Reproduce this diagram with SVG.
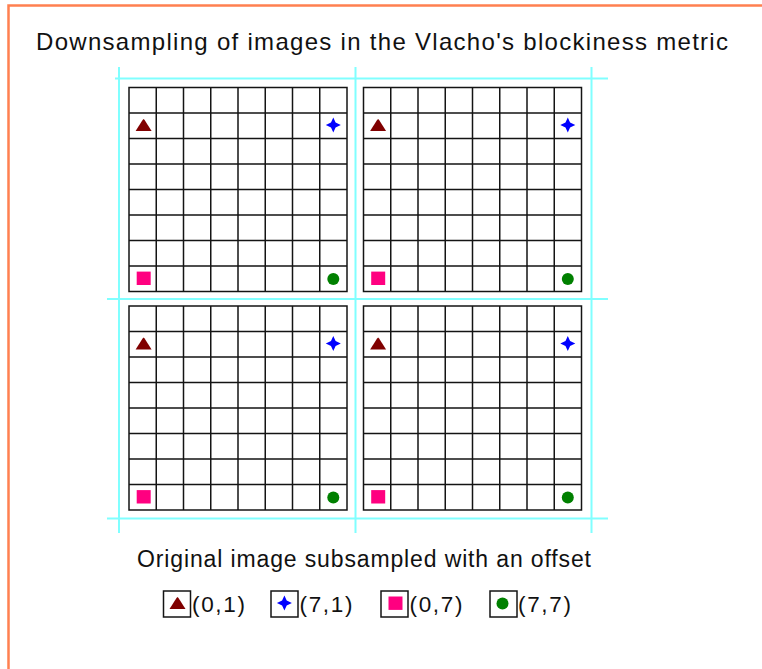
<svg xmlns="http://www.w3.org/2000/svg" xmlns:xlink="http://www.w3.org/1999/xlink" width="762" height="669" viewBox="0 0 762 669">
<style>
.txt{font-family:"Liberation Sans",Arial,sans-serif;fill:#111;}
.grid{fill:#fff;stroke:#141414;stroke-width:1.5;}
.guide{stroke:#80ffff;stroke-width:2;fill:none;}
.tri{fill:#800000;}
.star{fill:#0000ff;}
.sq{fill:#ff0080;}
.dot{fill:#008000;}
.lbox{fill:#fff;stroke:#141414;stroke-width:1.5;}
</style>
<defs>
<g id="grid8">
<rect class="grid" x="0" y="0" width="218" height="204"/>
<path class="grid" fill="none" d="M27.25,0V204M54.5,0V204M81.75,0V204M109,0V204M136.25,0V204M163.5,0V204M190.75,0V204M0,25.5H218M0,51H218M0,76.5H218M0,102H218M0,127.5H218M0,153H218M0,178.5H218"/>
</g>
<path id="mtri" class="tri" d="M0,-7 L1,-6 L8,5 L-8,5 L-1,-6 Z"/>
<path id="mstar" class="star" d="M0,-7.5 L2.3,-2.6 L7.5,0 L2.3,2.6 L0,7.5 L-2.3,2.6 L-7.5,0 L-2.3,-2.6 Z"/>
<rect id="msq" class="sq" x="-7" y="-6.7" width="14" height="13.4"/>
<circle id="mdot" class="dot" cx="0" cy="0" r="6"/>
<g id="block">
<use xlink:href="#grid8"/>
<use xlink:href="#mtri" x="14.6" y="38.5"/>
<use xlink:href="#mstar" x="204.3" y="37.5"/>
<use xlink:href="#msq" x="14.7" y="190.8"/>
<use xlink:href="#mdot" x="204.3" y="191.5"/>
</g>
</defs>

<path id="frame" d="M8.5,669V5.5H762" fill="none" stroke="#ff8050" stroke-width="2.5"/>

<text id="title" class="txt" x="36" y="50" font-size="24" textLength="692" lengthAdjust="spacing">Downsampling of images in the Vlacho's blockiness metric</text>

<g id="guides">
<path class="guide" d="M119,67V533M355.5,67V533M591.5,67V533M115,78.5H608M107,299H608M107,518.5H608"/>
</g>

<g id="block-tl"><use xlink:href="#block" x="129" y="87.5"/></g>
<g id="block-tr"><use xlink:href="#block" x="363.5" y="87.5"/></g>
<g id="block-bl"><use xlink:href="#block" x="129" y="306"/></g>
<g id="block-br"><use xlink:href="#block" x="363.5" y="306"/></g>

<text id="subtitle" class="txt" x="137" y="567" font-size="23" textLength="454" lengthAdjust="spacing">Original image subsampled with an offset</text>

<g id="legend">
<g id="leg-01">
<rect class="lbox" x="163.5" y="591" width="27" height="26"/>
<use xlink:href="#mtri" x="177.5" y="604"/>
<text class="txt" x="192" y="611.5" font-size="22.5" textLength="53" lengthAdjust="spacing">(0,1)</text>
</g>
<g id="leg-71">
<rect class="lbox" x="271" y="591" width="27" height="26"/>
<use xlink:href="#mstar" x="284.4" y="603"/>
<text class="txt" x="299.5" y="611.5" font-size="22.5" textLength="53" lengthAdjust="spacing">(7,1)</text>
</g>
<g id="leg-07">
<rect class="lbox" x="381" y="591" width="27" height="26"/>
<use xlink:href="#msq" x="395.5" y="603.2"/>
<text class="txt" x="409.5" y="611.5" font-size="22.5" textLength="53" lengthAdjust="spacing">(0,7)</text>
</g>
<g id="leg-77">
<rect class="lbox" x="490" y="591" width="27" height="26"/>
<use xlink:href="#mdot" x="502.5" y="603.5"/>
<text class="txt" x="518" y="611.5" font-size="22.5" textLength="53" lengthAdjust="spacing">(7,7)</text>
</g>
</g>
</svg>
